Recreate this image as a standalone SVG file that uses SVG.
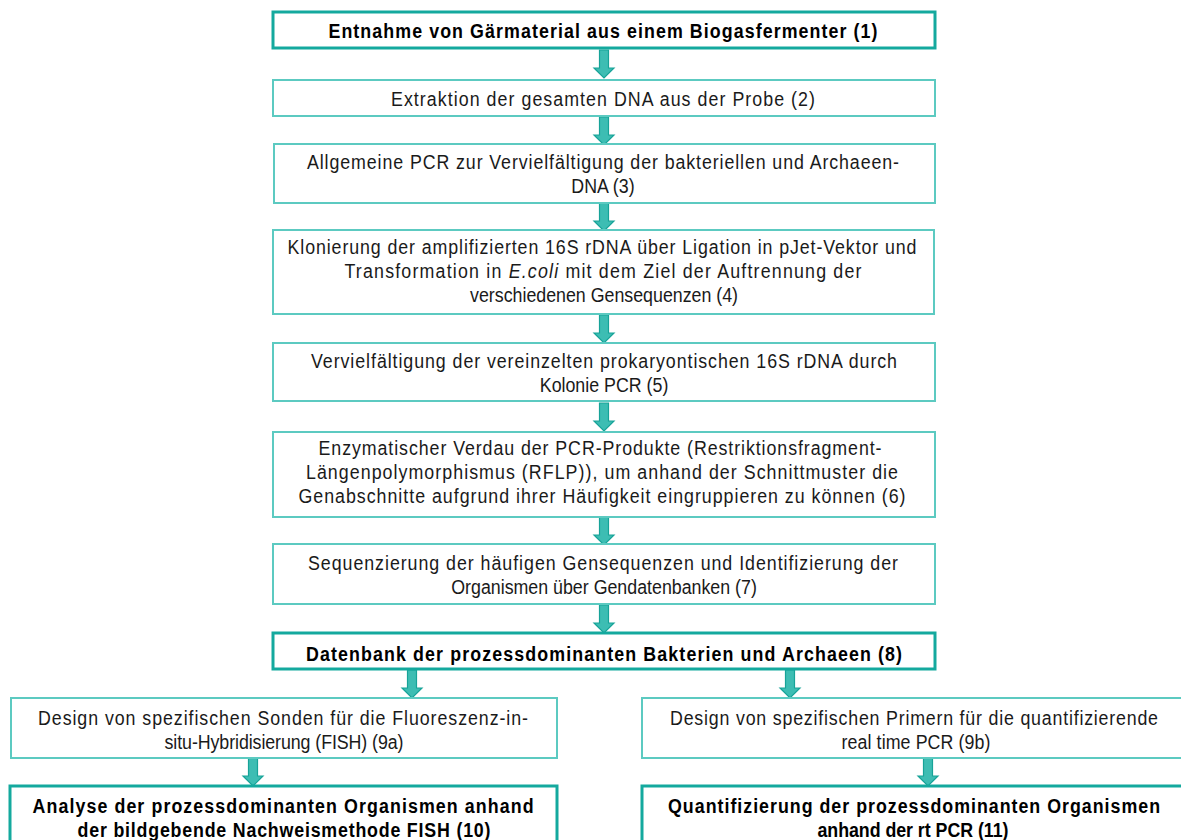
<svg xmlns="http://www.w3.org/2000/svg" width="1181" height="840" viewBox="0 0 1181 840">
<style>
.box{fill:#fff;stroke:#5ccac1;stroke-width:2}
.boxb{fill:#fff;stroke:#14a99e;stroke-width:3}
.t{font-family:"Liberation Sans",Arial,sans-serif;font-size:20px;fill:#1a1a1a;text-anchor:middle}
.b{font-weight:bold;fill:#000}
.arr{fill:#3dbdb3;stroke:#17a398;stroke-width:1.2}
</style>
<defs>
<path id="ar" d="M-4.5,0 H4.5 V18 H10 L0,28 L-10,18 H-4.5 Z"/>
</defs>
<rect width="1181" height="840" fill="#fff"/>
<g id="connectors">
<use href="#ar" class="arr" x="604" y="50"/>
<use href="#ar" class="arr" x="604" y="117"/>
<use href="#ar" class="arr" x="604" y="203"/>
<use href="#ar" class="arr" x="604" y="315"/>
<use href="#ar" class="arr" x="604" y="403"/>
<use href="#ar" class="arr" x="604" y="517"/>
<use href="#ar" class="arr" x="604" y="605"/>
<use href="#ar" class="arr" x="412" y="670"/>
<use href="#ar" class="arr" x="790" y="670"/>
<use href="#ar" class="arr" x="253" y="758"/>
<use href="#ar" class="arr" x="928" y="758"/>
</g>
<g id="n1">
<rect class="boxb" x="273" y="12" width="662" height="36"/>
<text class="t b" transform="scale(0.89,1)" x="677.5" y="38" textLength="616.9">Entnahme von Gärmaterial aus einem Biogasfermenter (1)</text>
</g>
<g id="n2">
<rect class="box" x="273" y="80" width="662" height="36"/>
<text class="t" transform="scale(0.89,1)" x="677.5" y="106" textLength="476.4">Extraktion der gesamten DNA aus der Probe (2)</text>
</g>
<g id="n3">
<rect class="box" x="274" y="144" width="661" height="59"/>
<text class="t" transform="scale(0.89,1)" x="677.5" y="169" textLength="665.2">Allgemeine PCR zur Vervielfältigung der bakteriellen und Archaeen-</text>
<text class="t" transform="scale(0.89,1)" x="677.5" y="193">DNA (3)</text>
</g>
<g id="n4">
<rect class="box" x="273" y="230" width="661" height="84"/>
<text class="t" transform="scale(0.89,1)" x="676.4" y="254" textLength="706.7">Klonierung der amplifizierten 16S rDNA über Ligation in pJet-Vektor und</text>
<text class="t" transform="scale(0.89,1)" x="677.5" y="278" textLength="580.9">Transformation in <tspan font-style="italic">E.coli</tspan> mit dem Ziel der Auftrennung der</text>
<text class="t" transform="scale(0.89,1)" x="678.7" y="302" textLength="301.1">verschiedenen Gensequenzen (4)</text>
</g>
<g id="n5">
<rect class="box" x="273" y="343" width="662" height="58"/>
<text class="t" transform="scale(0.89,1)" x="678.7" y="368" textLength="658.4">Vervielfältigung der vereinzelten prokaryontischen 16S rDNA durch</text>
<text class="t" transform="scale(0.89,1)" x="678.7" y="392">Kolonie PCR (5)</text>
</g>
<g id="n6">
<rect class="box" x="273" y="432" width="662" height="85"/>
<text class="t" transform="scale(0.89,1)" x="674.2" y="455" textLength="632.6">Enzymatischer Verdau der PCR-Produkte (Restriktionsfragment-</text>
<text class="t" transform="scale(0.89,1)" x="676.4" y="479" textLength="665.2">Längenpolymorphismus (RFLP)), um anhand der Schnittmuster die</text>
<text class="t" transform="scale(0.89,1)" x="676.4" y="503" textLength="682.0">Genabschnitte aufgrund ihrer Häufigkeit eingruppieren zu können (6)</text>
</g>
<g id="n7">
<rect class="box" x="273" y="544" width="662" height="60"/>
<text class="t" transform="scale(0.89,1)" x="677.5" y="570" textLength="662.9">Sequenzierung der häufigen Gensequenzen und Identifizierung der</text>
<text class="t" transform="scale(0.89,1)" x="678.7" y="594">Organismen über Gendatenbanken (7)</text>
</g>
<g id="n8">
<rect class="boxb" x="273" y="633" width="662" height="36"/>
<text class="t b" transform="scale(0.89,1)" x="678.7" y="661" textLength="669.7">Datenbank der prozessdominanten Bakterien und Archaeen (8)</text>
</g>
<g id="n9a">
<rect class="box" x="11" y="698" width="546" height="60"/>
<text class="t" transform="scale(0.89,1)" x="318.0" y="725" textLength="550.6">Design von spezifischen Sonden für die Fluoreszenz-in-</text>
<text class="t" transform="scale(0.89,1)" x="319.1" y="749" textLength="268.5">situ-Hybridisierung (FISH) (9a)</text>
</g>
<g id="n9b">
<rect class="box" x="642" y="698" width="560" height="60"/>
<text class="t" transform="scale(0.89,1)" x="1027.0" y="725" textLength="548.3">Design von spezifischen Primern für die quantifizierende</text>
<text class="t" transform="scale(0.89,1)" x="1029.2" y="749" textLength="167.4">real time PCR (9b)</text>
</g>
<g id="n10">
<rect class="boxb" x="10" y="786" width="547" height="70"/>
<text class="t b" transform="scale(0.89,1)" x="318.0" y="813" textLength="562.9">Analyse der prozessdominanten Organismen anhand</text>
<text class="t b" transform="scale(0.89,1)" x="319.1" y="837" textLength="464.0">der bildgebende Nachweismethode FISH (10)</text>
</g>
<g id="n11">
<rect class="boxb" x="642" y="786" width="560" height="70"/>
<text class="t b" transform="scale(0.89,1)" x="1027.0" y="813" textLength="552.8">Quantifizierung der prozessdominanten Organismen</text>
<text class="t b" transform="scale(0.89,1)" x="1025.8" y="837" textLength="214.6">anhand der rt PCR (11)</text>
</g>
</svg>
